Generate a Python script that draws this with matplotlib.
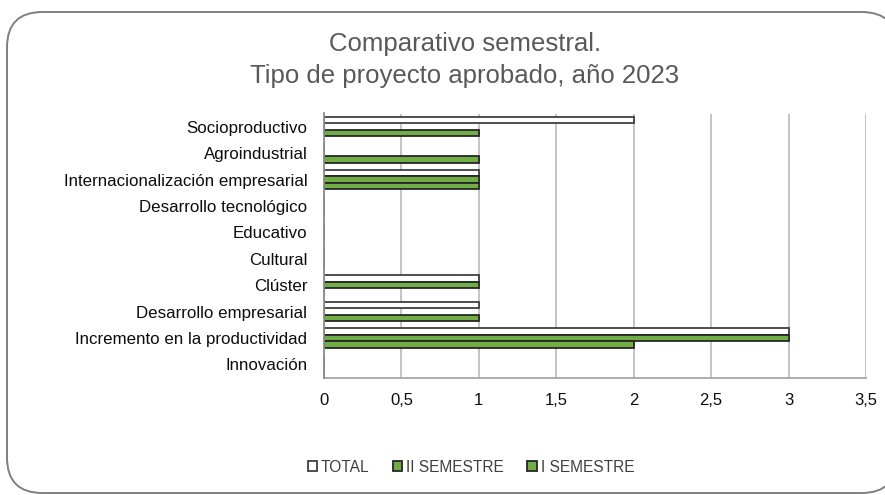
import numpy as np
import matplotlib.pyplot as plt
from matplotlib.patches import FancyBboxPatch

plt.rcParams['font.family'] = ['Liberation Sans', 'DejaVu Sans']

categorias = [
    'Socioproductivo',
    'Agroindustrial',
    'Internacionalización empresarial',
    'Desarrollo tecnológico',
    'Educativo',
    'Cultural',
    'Clúster',
    'Desarrollo empresarial',
    'Incremento en la productividad',
    'Innovación',
]
total = [2, 0, 1, 0, 0, 0, 1, 1, 3, 0]
ii_semestre = [0, 0, 1, 0, 0, 0, 1, 0, 3, 0]
i_semestre = [1, 1, 1, 0, 0, 0, 0, 1, 2, 0]
ticks_x = [0, 0.5, 1, 1.5, 2, 2.5, 3, 3.5]
etiquetas_x = ['0', '0,5', '1', '1,5', '2', '2,5', '3', '3,5']

fig = plt.figure(figsize=(8.85, 4.95), dpi=100)

# marco redondeado del grafico
marco = FancyBboxPatch((7 / 885, 2 / 495), 890 / 885, 481 / 495,
                       boxstyle='round,pad=0,rounding_size=0.04',
                       transform=fig.transFigure, facecolor='white',
                       edgecolor='#7f7f7f', linewidth=1.4, zorder=-1,
                       mutation_aspect=885 / 495)
fig.patches.append(marco)

ax = fig.add_axes([324 / 885, 117.4 / 495, 542 / 885, 264.1 / 495])
ax.set_facecolor('none')

y = np.arange(len(categorias))
h = 0.245
verde = '#70ad47'

ax.barh(y - h, total, height=h, color='white', edgecolor='#404040',
        linewidth=1.3, label='TOTAL', zorder=3)
ax.barh(y, ii_semestre, height=h, color=verde, edgecolor='#262626',
        linewidth=1.3, label='II SEMESTRE', zorder=3)
ax.barh(y + h, i_semestre, height=h, color=verde, edgecolor='#262626',
        linewidth=1.3, label='I SEMESTRE', zorder=3)

ax.set_ylim(len(categorias) - 0.5, -0.5)
ax.set_xlim(0, 3.5)
ax.set_yticks(y)
ax.set_yticklabels(categorias, fontsize=12.2, color='#0d0d0d')
ax.set_xticks(ticks_x)
ax.set_xticklabels(etiquetas_x, fontsize=12, color='#0d0d0d')
ax.tick_params(axis='y', length=0, pad=12)
ax.tick_params(axis='x', length=0, pad=11)

ax.grid(axis='x', color='#bfbfbf', linewidth=1.3, zorder=1)
for lado in ['top', 'right']:
    ax.spines[lado].set_visible(False)
ax.spines['left'].set_color('#8c8c8c')
ax.spines['left'].set_linewidth(1.3)
ax.spines['left'].set_zorder(4)
ax.spines['bottom'].set_color('#a6a6a6')
ax.spines['bottom'].set_linewidth(1.3)

fig.text(465 / 885, 1 - 60 / 495,
         'Comparativo semestral.\nTipo de proyecto aprobado, año 2023',
         ha='center', va='center', fontsize=18.5, color='#595959',
         linespacing=1.38)

fig.legend(loc='center', bbox_to_anchor=(471 / 885, 1 - 467 / 495), ncol=3,
           frameon=False, fontsize=11.2, handlelength=0.6, handleheight=0.6,
           handletextpad=0.25, columnspacing=1.5, labelcolor='#404040')

fig.savefig('out.png', dpi=100)
